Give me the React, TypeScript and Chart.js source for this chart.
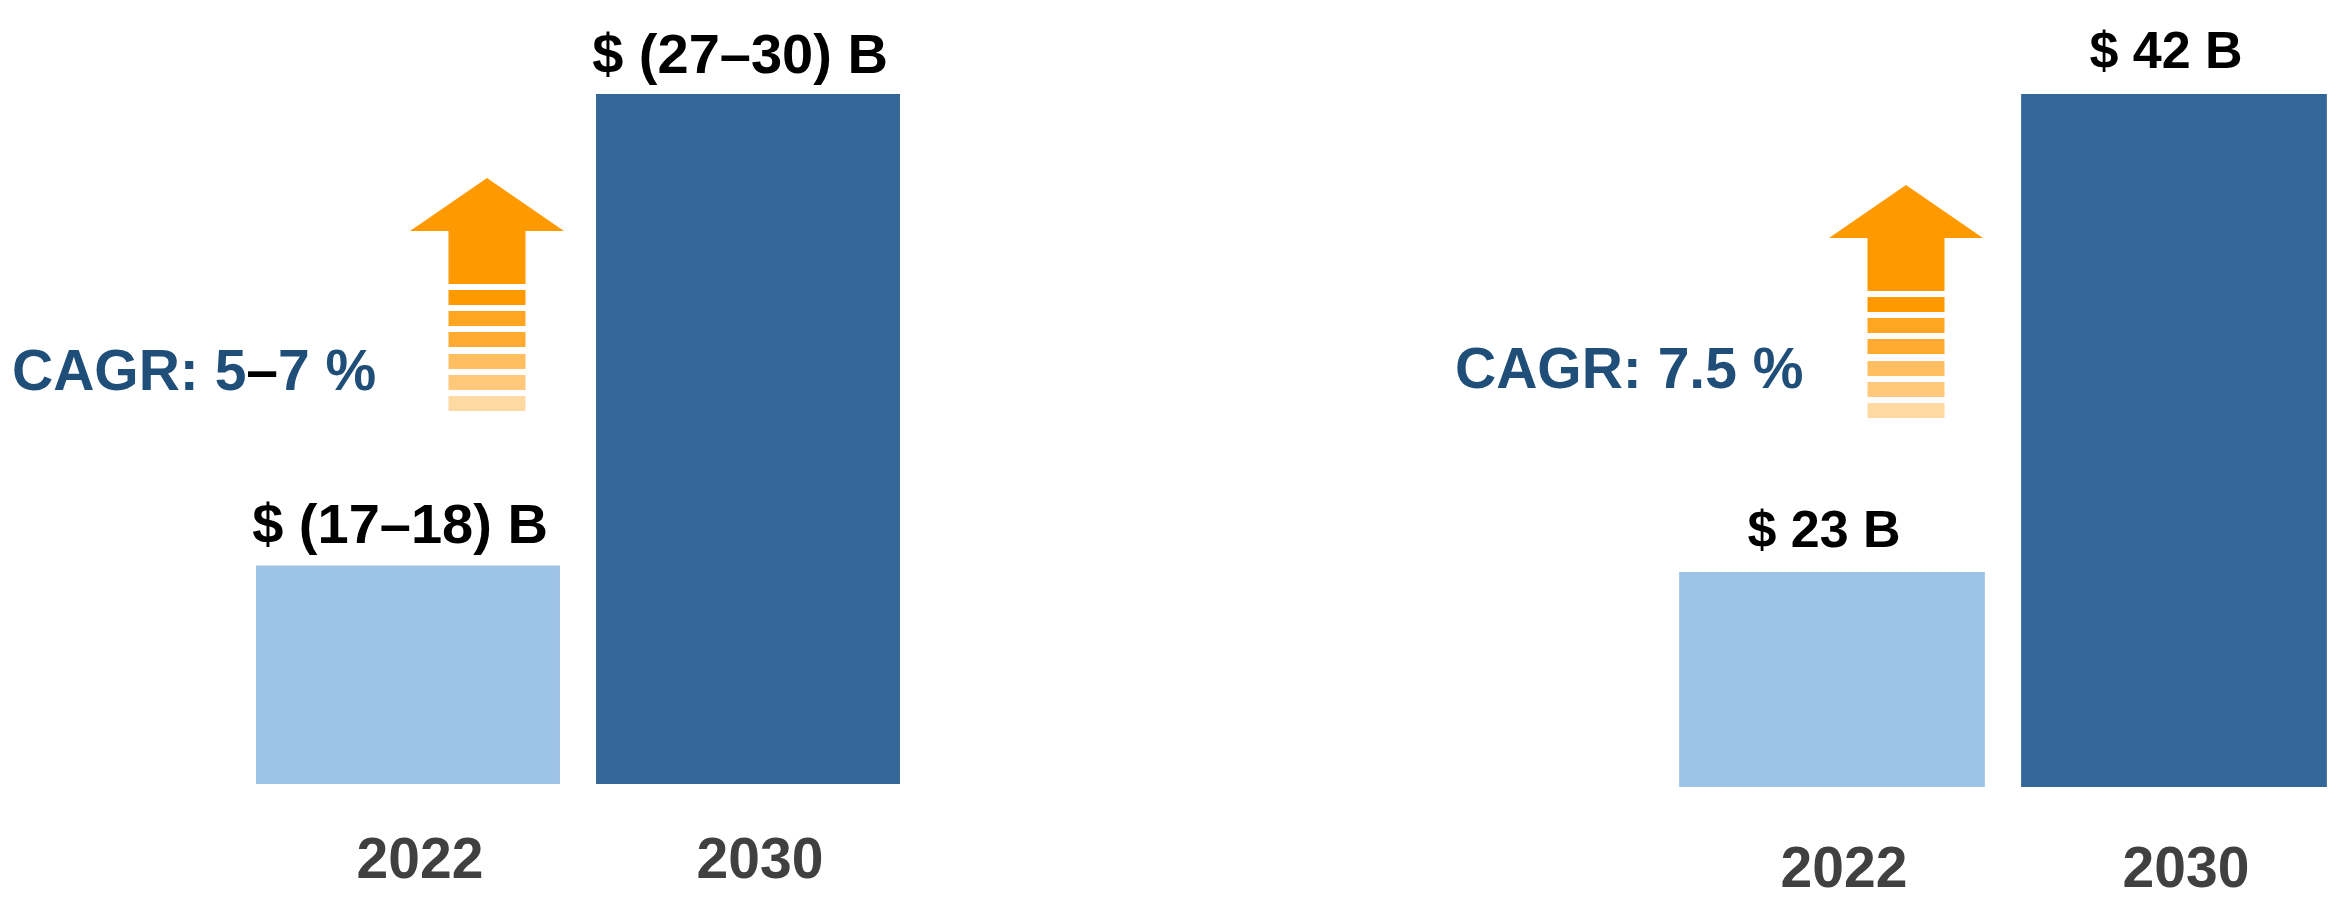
import React, { useEffect, useRef } from 'react';
import { Chart, registerables } from 'chart.js';

Chart.register(...registerables);

const FONT = '"Liberation Sans", Arial, Helvetica, sans-serif';

// ---- data ----
const years = ['2022', '2030'];

// left panel (market size range midpoints, $ billion)
const leftValues = [17.5, 28.5];
const leftValueLabels = ['$ (17–18) B', '$ (27–30) B'];
const leftCagrParts = ['CAGR: 5', '–', '7 %'];

// right panel ($ billion)
const rightValues = [23, 42];
const rightValueLabels = ['$ 23 B', '$ 42 B'];
const rightCagrParts = ['CAGR: 7.5 %'];

const barColors = ['#9DC3E6', '#336699'];
const CAGR_BLUE = '#1F4E79';
const ARROW_COLOR = '#FF9900';
const STRIPE_COLORS = ['#FF9900', '#FFA522', '#FFAA30', '#FFBF60', '#FFC87A', '#FFD9A2'];

type PanelCfg = {
  left: number;
  width: number;
  values: number[];
  valueLabels: string[];
  yMin: number;
  yMax: number;
  padding: { left: number; right: number; top: number; bottom: number };
  valueFont: number;
  valueGap: number[];
  valueShift: number;
  tickBaseline: number;
  cagrParts: string[];
  cagrColors: string[];
  cagrX: number;
  cagrBaseline: number;
  arrowCx: number;
  arrowTip: number;
};

const panels: PanelCfg[] = [
  {
    left: 0,
    width: 1000,
    values: leftValues,
    valueLabels: leftValueLabels,
    yMin: 12.4,
    yMax: 28.5,
    padding: { left: 238, right: 82, top: 94, bottom: 139 },
    valueFont: 56,
    valueGap: [22, 21],
    valueShift: -8,
    tickBaseline: 878,
    cagrParts: leftCagrParts,
    cagrColors: [CAGR_BLUE, '#000000', CAGR_BLUE],
    cagrX: 12,
    cagrBaseline: 390,
    arrowCx: 487,
    arrowTip: 178,
  },
  {
    left: 1400,
    width: 960,
    values: rightValues,
    valueLabels: rightValueLabels,
    yMin: 14.45,
    yMax: 42,
    padding: { left: 261, right: 15, top: 94, bottom: 136 },
    valueFont: 52,
    valueGap: [25, 26],
    valueShift: -8,
    tickBaseline: 887,
    cagrParts: rightCagrParts,
    cagrColors: [CAGR_BLUE],
    cagrX: 55,
    cagrBaseline: 388,
    arrowCx: 506,
    arrowTip: 185,
  },
];

function drawArrow(ctx: CanvasRenderingContext2D, cx: number, tip: number) {
  const headHalf = 77;
  const headH = 53;
  const shaftHalf = 38.5;
  const shaftBottom = tip + 106;
  ctx.fillStyle = ARROW_COLOR;
  ctx.beginPath();
  ctx.moveTo(cx, tip);
  ctx.lineTo(cx + headHalf, tip + headH);
  ctx.lineTo(cx + shaftHalf, tip + headH);
  ctx.lineTo(cx + shaftHalf, shaftBottom);
  ctx.lineTo(cx - shaftHalf, shaftBottom);
  ctx.lineTo(cx - shaftHalf, tip + headH);
  ctx.lineTo(cx - headHalf, tip + headH);
  ctx.closePath();
  ctx.fill();
  const offsets = [112, 133, 154, 176, 197, 218];
  offsets.forEach((o, k) => {
    ctx.fillStyle = STRIPE_COLORS[k];
    ctx.fillRect(cx - shaftHalf, tip + o, shaftHalf * 2, 15);
  });
}

function Panel({ cfg }: { cfg: PanelCfg }) {
  const ref = useRef<HTMLCanvasElement>(null);
  useEffect(() => {
    const canvas = ref.current as HTMLCanvasElement;
    const overlay = {
      id: 'overlay',
      afterDatasetsDraw(chart: any) {
        const ctx: CanvasRenderingContext2D = chart.ctx;
        const meta = chart.getDatasetMeta(0);
        ctx.save();
        ctx.textBaseline = 'alphabetic';
        meta.data.forEach((bar: any, i: number) => {
          ctx.textAlign = 'center';
          ctx.font = `bold ${cfg.valueFont}px ${FONT}`;
          ctx.fillStyle = '#000000';
          ctx.fillText(cfg.valueLabels[i], bar.x + cfg.valueShift, bar.y - cfg.valueGap[i]);
          ctx.font = `bold 57px ${FONT}`;
          ctx.fillStyle = '#404040';
          ctx.fillText(years[i], bar.x + 12, cfg.tickBaseline);
        });
        ctx.textAlign = 'left';
        ctx.font = `bold 57px ${FONT}`;
        let x = cfg.cagrX;
        cfg.cagrParts.forEach((t, k) => {
          ctx.fillStyle = cfg.cagrColors[k];
          ctx.fillText(t, x, cfg.cagrBaseline);
          x += ctx.measureText(t).width;
        });
        drawArrow(ctx, cfg.arrowCx, cfg.arrowTip);
        ctx.restore();
      },
    };
    const chart = new Chart(canvas, {
      type: 'bar',
      data: {
        labels: years,
        datasets: [
          {
            data: cfg.values,
            backgroundColor: barColors,
            borderWidth: 0,
            barPercentage: 0.894,
            categoryPercentage: 1,
          },
        ],
      },
      options: {
        responsive: false,
        animation: false,
        events: [],
        layout: { padding: cfg.padding },
        plugins: {
          legend: { display: false },
          tooltip: { enabled: false },
          title: { display: false },
        },
        scales: {
          x: { display: false, offset: true },
          y: { display: false, min: cfg.yMin, max: cfg.yMax, beginAtZero: false, bounds: 'data' },
        },
      } as any,
      plugins: [overlay],
    });
    return () => chart.destroy();
  }, []);
  return (
    <canvas
      ref={ref}
      width={cfg.width}
      height={923}
      style={{ position: 'absolute', left: cfg.left, top: 0, width: cfg.width, height: 923 }}
    />
  );
}

export default function App() {
  return (
    <div
      style={{
        position: 'fixed',
        left: 0,
        top: 0,
        width: 2341,
        height: 923,
        overflow: 'hidden',
        background: '#ffffff',
      }}
    >
      {panels.map((p, i) => (
        <Panel key={i} cfg={p} />
      ))}
    </div>
  );
}
